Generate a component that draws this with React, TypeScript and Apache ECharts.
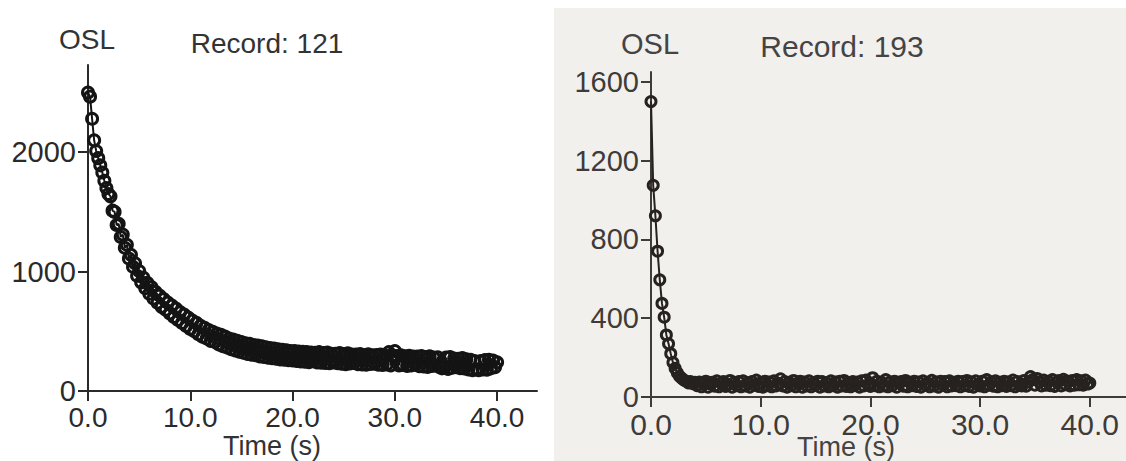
import React, { useEffect, useRef } from 'react';
import * as echarts from 'echarts';

// Channel width of the OSL readout (s)
const CHANNEL_S = 0.2;

const X_TICKS = [0, 10, 20, 30, 40];
const LEFT_Y_TICKS = [0, 1000, 2000];
const RIGHT_Y_TICKS = [0, 400, 800, 1200, 1600];

const LEFT_TITLE = 'Record: 121';
const RIGHT_TITLE = 'Record: 193';
const Y_NAME = 'OSL';
const X_NAME = 'Time (s)';

// Record 121 — OSL counts per channel
const LEFT_OSL = [
  2500, 2465, 2280, 2100, 2010, 1950, 1890, 1830, 1760, 1700, 1650,
  1630, 1510, 1500, 1390, 1400, 1290, 1310, 1200, 1225, 1110,
  1140, 1040, 1070, 965, 1005, 910, 950, 860, 905, 815,
  870, 775, 830, 740, 800, 705, 770, 680, 740, 650,
  715, 620, 690, 595, 660, 570, 640, 545, 615, 520,
  590, 500, 570, 475, 545, 455, 530, 440, 510, 420,
  495, 410, 480, 390, 470, 375, 455, 365, 440, 350,
  430, 340, 420, 330, 410, 320, 400, 310, 395, 305,
  385, 300, 380, 290, 375, 285, 365, 280, 360, 275,
  355, 270, 350, 265, 345, 262, 340, 258, 335, 255,
  335, 252, 330, 248, 328, 245, 325, 242, 322, 250,
  320, 240, 325, 238, 318, 235, 322, 232, 312, 240,
  312, 232, 318, 228, 310, 225, 315, 230, 305, 235,
  305, 225, 310, 222, 300, 220, 308, 226, 298, 228,
  300, 220, 305, 218, 298, 222, 325, 215, 295, 335,
  292, 215, 298, 218, 290, 210, 295, 215, 288, 220,
  288, 208, 292, 205, 285, 202, 290, 210, 280, 212,
  282, 200, 190, 198, 280, 185, 285, 195, 272, 200,
  270, 192, 275, 188, 265, 180, 262, 175, 250, 182,
  175, 250, 180, 258, 178, 262, 190, 255, 200, 240,
];

// Record 193 — OSL counts per channel
const RIGHT_OSL = [
  1500, 1075, 920, 740, 595, 475, 405, 315, 270, 220, 175,
  145, 122, 105, 95, 86, 80, 72, 78, 68, 74,
  58, 76, 52, 70, 80, 50, 66, 75, 55, 82,
  52, 70, 78, 54, 62, 84, 50, 74, 58, 78,
  52, 82, 56, 72, 50, 78, 60, 86, 54, 72,
  50, 80, 58, 76, 52, 82, 56, 70, 92, 56,
  78, 50, 74, 58, 84, 52, 70, 80, 50, 76,
  56, 82, 52, 72, 60, 80, 50, 78, 56, 72,
  52, 82, 58, 76, 50, 80, 56, 84, 54, 72,
  52, 78, 60, 76, 50, 82, 56, 86, 62, 54,
  98, 58, 80, 52, 74, 56, 88, 52, 76, 58,
  80, 50, 72, 78, 55, 84, 52, 74, 58, 80,
  54, 76, 50, 82, 60, 72, 52, 85, 56, 76,
  50, 80, 60, 78, 52, 82, 56, 74, 58, 80,
  52, 78, 58, 84, 54, 76, 50, 82, 62, 56,
  80, 52, 88, 60, 76, 55, 82, 52, 74, 58,
  80, 54, 76, 58, 86, 52, 78, 60, 56, 84,
  55, 76, 104, 88, 60, 94, 76, 56, 86, 60,
  80, 58, 88, 54, 76, 84, 56, 90, 62, 80,
  56, 84, 60, 88, 62, 82, 60, 86, 66, 71,
];

const FONT = '"Liberation Sans", Arial, sans-serif';

const toPairs = (vals: number[]) =>
  vals.map((v, i) => [Number((i * CHANNEL_S).toFixed(1)), v]);

function xAxisCfg(grid: number, max: number, color: string, fs: number) {
  return {
    gridIndex: grid,
    type: 'value',
    min: 0,
    max,
    axisLine: { show: true, onZero: false, lineStyle: { color, width: 2 } },
    axisTick: { show: true, customValues: X_TICKS, length: 10, lineStyle: { color, width: 2 } },
    axisLabel: {
      customValues: X_TICKS,
      formatter: (v: number) => v.toFixed(1),
      fontSize: fs,
      fontFamily: FONT,
      color,
      margin: 12,
    },
    splitLine: { show: false },
  };
}

function yAxisCfg(grid: number, max: number, ticks: number[], color: string, fs: number) {
  return {
    gridIndex: grid,
    type: 'value',
    min: 0,
    max,
    axisLine: { show: true, onZero: false, lineStyle: { color, width: 2 } },
    axisTick: { show: true, customValues: ticks, length: 10, lineStyle: { color, width: 2 } },
    axisLabel: {
      customValues: ticks,
      formatter: (v: number) => String(v),
      fontSize: fs,
      fontFamily: FONT,
      color,
      margin: 12,
    },
    splitLine: { show: false },
  };
}

function seriesCfg(idx: number, vals: number[], color: string, size: number, bw: number) {
  return {
    type: 'line',
    xAxisIndex: idx,
    yAxisIndex: idx,
    data: toPairs(vals),
    symbol: 'circle',
    symbolSize: size,
    showSymbol: true,
    silent: true,
    lineStyle: { color, width: 2 },
    itemStyle: { color: 'rgba(255,255,255,0)', borderColor: color, borderWidth: bw },
    emphasis: { disabled: true },
  };
}

function txt(text: string, x: number, y: number, fs: number, fill: string) {
  return {
    type: 'text',
    x,
    y,
    silent: true,
    z: 10,
    style: { text, fontSize: fs, fontFamily: FONT, fill, align: 'center', verticalAlign: 'middle' },
  };
}

export default function App() {
  const ref = useRef<HTMLDivElement>(null);

  useEffect(() => {
    if (!ref.current) return;
    const chart = echarts.init(ref.current, undefined, { renderer: 'svg' });
    const leftColor = '#2a2a2a';
    const rightColor = '#3e3b38';
    chart.setOption({
      animation: false,
      backgroundColor: '#ffffff',
      graphic: [
        {
          type: 'rect',
          z: -10,
          silent: true,
          shape: { x: 554, y: 8, width: 572, height: 453 },
          style: { fill: '#f2f0ec' },
        },
        txt(Y_NAME, 87, 39, 28, '#333'),
        txt(LEFT_TITLE, 267, 43, 28, '#333'),
        txt(X_NAME, 272, 446, 27, '#333'),
        txt(Y_NAME, 650, 44, 29, '#444'),
        txt(RIGHT_TITLE, 842, 46, 30, '#444'),
        txt(X_NAME, 846, 447, 27, '#444'),
      ],
      grid: [
        { left: 88, top: 65, width: 449, height: 326 },
        { left: 651, top: 72, width: 475, height: 325 },
      ],
      xAxis: [xAxisCfg(0, 43.9, leftColor, 28), xAxisCfg(1, 43.3, rightColor, 30)],
      yAxis: [
        yAxisCfg(0, 2730, LEFT_Y_TICKS, leftColor, 29),
        yAxisCfg(1, 1650, RIGHT_Y_TICKS, rightColor, 29),
      ],
      series: [
        seriesCfg(0, LEFT_OSL, '#141414', 11, 3),
        seriesCfg(1, RIGHT_OSL, '#262220', 10, 3),
      ],
    });
    return () => chart.dispose();
  }, []);

  return (
    <div
      ref={ref}
      style={{ position: 'absolute', left: 0, top: 0, width: 1126, height: 461 }}
    />
  );
}
